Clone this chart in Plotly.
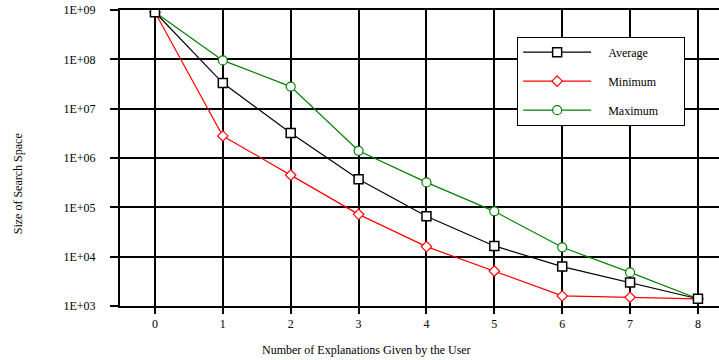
import plotly.graph_objects as go

explanations = [0, 1, 2, 3, 4, 5, 6, 7, 8]
average = [9.0e8, 3.3e7, 3.2e6, 3.7e5, 6.6e4, 1.65e4, 6.3e3, 3.0e3, 1.4e3]
minimum = [9.0e8, 2.8e6, 4.5e5, 7.2e4, 1.6e4, 5.1e3, 1.6e3, 1.5e3, 1.4e3]
maximum = [9.0e8, 9.5e7, 2.8e7, 1.4e6, 3.2e5, 8.3e4, 1.55e4, 4.8e3, 1.4e3]
y_ticks = [1e3, 1e4, 1e5, 1e6, 1e7, 1e8, 1e9]
y_ticktext = ["1E+03", "1E+04", "1E+05", "1E+06", "1E+07", "1E+08", "1E+09"]

FONT = "Liberation Serif"
FS = 12
PAD_L = "&nbsp;" * 4
PAD_R = "&nbsp;" * 7

fig = go.Figure()
fig.add_trace(go.Scatter(x=explanations, y=minimum, name=PAD_L + "Minimum" + PAD_R,
                         mode="lines+markers",
                         line=dict(color="#ff0000", width=1.2), legendgroup="b", legendrank=2,
                         marker=dict(symbol="diamond", size=8, color="white",
                                     line=dict(color="#ff0000", width=1.2))))
fig.add_trace(go.Scatter(x=explanations, y=maximum, name=PAD_L + "Maximum" + PAD_R,
                         mode="lines+markers",
                         line=dict(color="#008000", width=1.2), legendgroup="c", legendrank=3,
                         marker=dict(symbol="circle", size=9, color="white",
                                     line=dict(color="#008000", width=1.2))))
fig.add_trace(go.Scatter(x=explanations, y=average, name=PAD_L + "Average" + PAD_R,
                         mode="lines+markers",
                         line=dict(color="black", width=1.2), legendgroup="a", legendrank=1,
                         marker=dict(symbol="square", size=9, color="white",
                                     line=dict(color="black", width=1.5))))

fig.update_layout(
    width=719, height=360,
    margin=dict(l=120, r=0, t=10, b=54),
    paper_bgcolor="white", plot_bgcolor="white",
    font=dict(family=FONT, size=FS, color="black"),
    showlegend=True,
    legend=dict(x=0.663, y=0.91, xanchor="left", yanchor="top",
                bgcolor="white", bordercolor="black", borderwidth=1,
                tracegroupgap=10, itemwidth=68,
                font=dict(family=FONT, size=FS, color="black")),
    xaxis=dict(range=[-0.515, 8.31], tickvals=explanations, showgrid=True,
               gridcolor="black", gridwidth=1.5, zeroline=False,
               showline=True, linecolor="black", linewidth=2, mirror=True,
               ticks="outside", ticklen=6, tickcolor="black", tickwidth=1.5,
               tickfont=dict(family=FONT, size=FS)),
    yaxis=dict(type="log", range=[3, 9], tickvals=y_ticks, ticktext=y_ticktext,
               showgrid=True, gridcolor="black", gridwidth=1.5, zeroline=False,
               showline=True, linecolor="black", linewidth=2,
               ticks="outside", ticklen=8, tickcolor="black", tickwidth=1.5,
               ticklabelstandoff=12,
               tickfont=dict(family=FONT, size=FS)),
    annotations=[
        dict(text="Number of Explanations Given by the User", xref="paper", yref="paper",
             x=0.412, y=-0.149, xanchor="center", yanchor="middle", showarrow=False,
             font=dict(family=FONT, size=FS)),
        dict(text="Size of Search Space", xref="paper", yref="paper",
             x=-0.17, y=0.412, xanchor="center", yanchor="middle", textangle=-90,
             showarrow=False, font=dict(family=FONT, size=FS)),
    ],
)

fig.write_html("out.html", config={"displayModeBar": False},
               post_script="document.body.style.margin='0';")
